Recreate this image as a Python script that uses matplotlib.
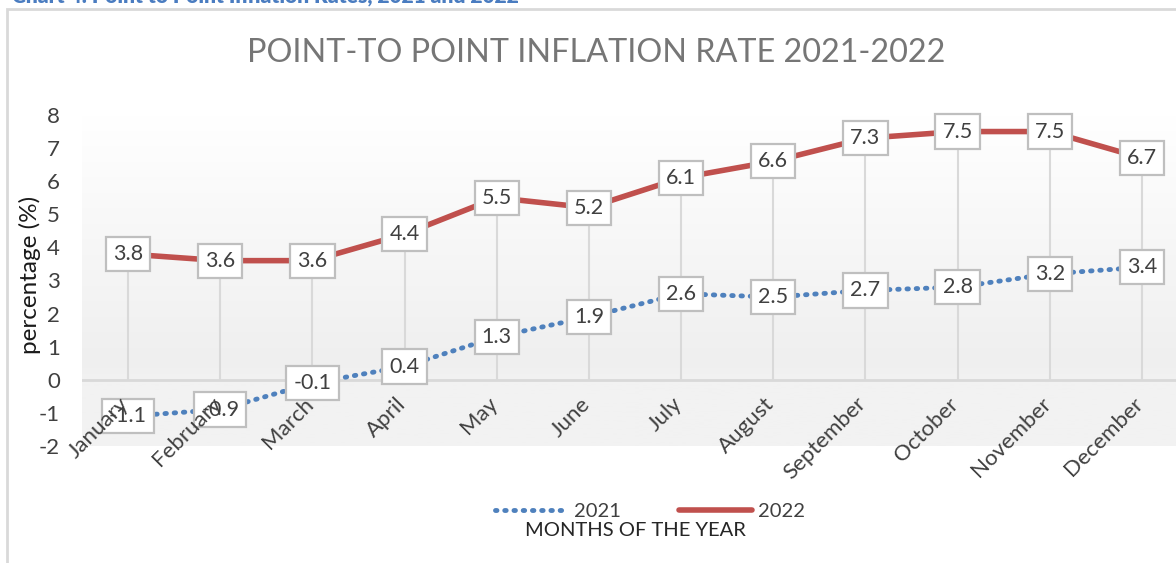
import numpy as np
import matplotlib
matplotlib.use("Agg")
import matplotlib.pyplot as plt
from matplotlib.colors import LinearSegmentedColormap

months = ["January", "February", "March", "April", "May", "June", "July",
          "August", "September", "October", "November", "December"]
rate_2021 = [-1.1, -0.9, -0.1, 0.4, 1.3, 1.9, 2.6, 2.5, 2.7, 2.8, 3.2, 3.4]
rate_2022 = [3.8, 3.6, 3.6, 4.4, 5.5, 5.2, 6.1, 6.6, 7.3, 7.5, 7.5, 6.7]
yticks = [-2, -1, 0, 1, 2, 3, 4, 5, 6, 7, 8]

plt.rcParams['font.family'] = ['Lato', 'DejaVu Sans']
W, H = 1176, 563
fig = plt.figure(figsize=(W / 100, H / 100), dpi=100)

# outer chart frame (left & top visible)
fig.patches.append(plt.Rectangle((7 / W, -0.1), 1.2, (1 - 9 / H) + 0.1,
                                 transform=fig.transFigure, fill=False,
                                 edgecolor="#d9d9d9", linewidth=2))
# caption partly cut off at the very top, as in the source image
fig.text(12 / W, 1 + 4 / H, "Chart 4: Point to Point Inflation Rates, 2021 and 2022",
         color="#4a7cc0", fontsize=15, fontweight="heavy", ha="left", va="center")

left, right = 82 / W, 1188 / W
bottom, top = 1 - 446 / H, 1 - 115 / H
ax = fig.add_axes([left, bottom, right - left, top - bottom])
x = np.arange(len(months))
ax.set_xlim(-0.5, len(months) - 0.5)
ax.set_ylim(-2, 8)

# gradient background
grad = np.linspace(0, 1, 256).reshape(-1, 1)
ax.imshow(grad, extent=[-0.5, len(months) - 0.5, -2, 8], origin="lower",
          aspect="auto", cmap=LinearSegmentedColormap.from_list(
              "bg", [(0, "#f2f2f2"), (0.2, "#f2f2f2"), (0.25, "#efefef"), (1, "#ffffff")]),
          zorder=0)

# drop lines
ax.vlines(x, 0, rate_2022, color="#d9d9d9", linewidth=1.5, zorder=1)
ax.axhline(0, color="#d9d9d9", linewidth=2, zorder=1)

ax.plot(x, rate_2021, color="#4f81bd", linewidth=3.5, linestyle=(0, (0.3, 1.6)),
        dash_capstyle="round", label="2021", zorder=2)
ax.plot(x, rate_2022, color="#c0504d", linewidth=4, solid_capstyle="round",
        label="2022", zorder=2)

box = dict(boxstyle="square,pad=0.33", facecolor="white", edgecolor="#bfbfbf", linewidth=1.6)
for series in (rate_2021, rate_2022):
    for xi, v in zip(x, series):
        ax.text(xi, v, f"{v:g}", ha="center", va="center", fontsize=15.5,
                color="#404040", bbox=box, zorder=3)

for s in ax.spines.values():
    s.set_visible(False)
ax.set_yticks(yticks)
ax.set_yticklabels([str(t) for t in yticks])
ax.tick_params(axis="y", length=0, pad=16, labelsize=16, labelcolor="#404040")
ax.set_xticks(x)
ax.set_xticklabels([])
ax.tick_params(axis="x", length=0)
for xi in x:
    ax.text(xi - 0.1, -0.42, months[xi], rotation=45, ha="right", va="top",
            rotation_mode="anchor", fontsize=16, color="#404040", zorder=4)

fig.text(30 / W, 1 - 275 / H, "percentage (%)", rotation=90, ha="center", va="center",
         fontsize=17.5, color="#1a1a1a")
fig.text(596 / W, 1 - 53 / H, "POINT-TO POINT INFLATION RATE 2021-2022",
         ha="center", va="center", fontsize=23.3, color="#767676")
fig.text(635 / W, 1 - 531 / H, "MONTHS OF THE YEAR", ha="center", va="center",
         fontsize=14.5, color="#262626")

leg = fig.legend(loc="center", bbox_to_anchor=(650 / W, 1 - 511 / H), ncol=2,
                 frameon=False, fontsize=14.5, handlelength=3.6, columnspacing=2.9,
                 handletextpad=0.3, borderpad=0)
for t in leg.get_texts():
    t.set_color("#404040")

fig.savefig("out.png", dpi=100)
